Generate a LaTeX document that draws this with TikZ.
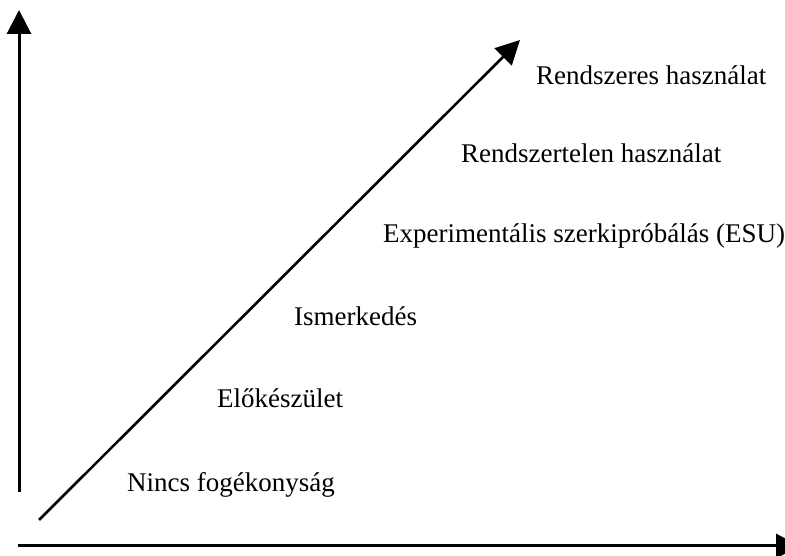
\documentclass[tikz,border=0pt]{standalone}
\usepackage{fontspec}
\setmainfont{Liberation Serif}
\usetikzlibrary{arrows.meta}
\tikzset{
  axis/.style={line width=3pt, -{Triangle[length=24pt,width=24pt]}},
  phase/.style={anchor=base west, inner sep=0pt, font=\fontsize{27}{32}\selectfont}
}
\begin{document}
\begin{tikzpicture}[x=1pt, y=1pt]
    \useasboundingbox (0,0) rectangle (785,556);
    % Tengelyek
    \coordinate (ybot) at (19,64);
    \coordinate (ytop) at (19,546);
    \coordinate (xleft) at (18,10);
    \coordinate (xright) at (800,10);
    \coordinate (dstart) at (39,36);
    \coordinate (dend) at (520,516);

    \draw[axis] (ybot) -- (ytop);
    \draw[axis] (xleft) -- (xright);
    \draw[axis, line width=2.6pt] (dstart) -- (dend);

    % Szakaszok
    \node[phase] (p1) at (127,64) {Nincs fogékonyság};
    \node[phase] (p2) at (217,148) {Előkészület};
    \node[phase] (p3) at (294,230) {Ismerkedés};
    \node[phase] (p4) at (383,313) {Experimentális szerkipróbálás (ESU)};
    \node[phase] (p5) at (461,393) {Rendszertelen használat};
    \node[phase] (p6) at (536,471) {Rendszeres használat};
\end{tikzpicture}
\end{document}
